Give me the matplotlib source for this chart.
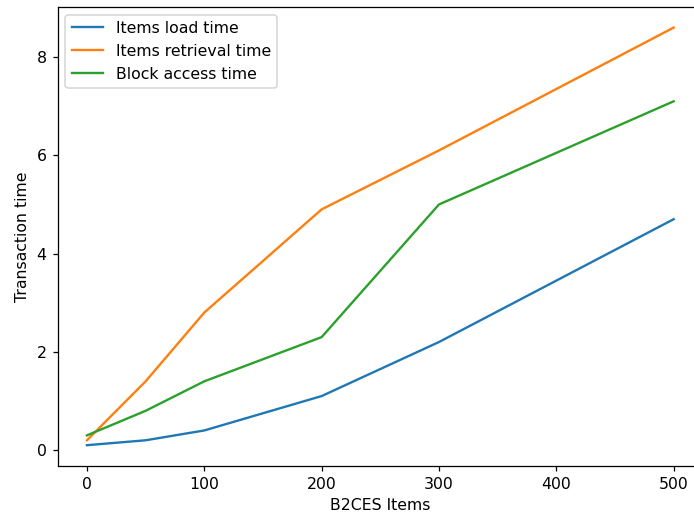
import matplotlib
matplotlib.use("Agg")
import matplotlib.pyplot as plt

items = [0, 50, 100, 200, 300, 500]
load_time = [0.1, 0.2, 0.4, 1.1, 2.2, 4.7]
retrieval_time = [0.2, 1.4, 2.8, 4.9, 6.1, 8.6]
block_time = [0.3, 0.8, 1.4, 2.3, 5.0, 7.1]

# original looks like a slightly upscaled, cropped figure (right spine cut off)
dpi = 113
fig = plt.figure(figsize=(694 / dpi, 515 / dpi), dpi=dpi)
ax = fig.add_axes([0.083, 0.095, 0.930, 0.892])

ax.plot(items, load_time, label="Items load time")
ax.plot(items, retrieval_time, label="Items retrieval time")
ax.plot(items, block_time, label="Block access time")

ax.set_xlabel("B2CES Items")
ax.set_ylabel("Transaction time")
ax.legend(loc="upper left")

fig.savefig("out.png", dpi=dpi)
